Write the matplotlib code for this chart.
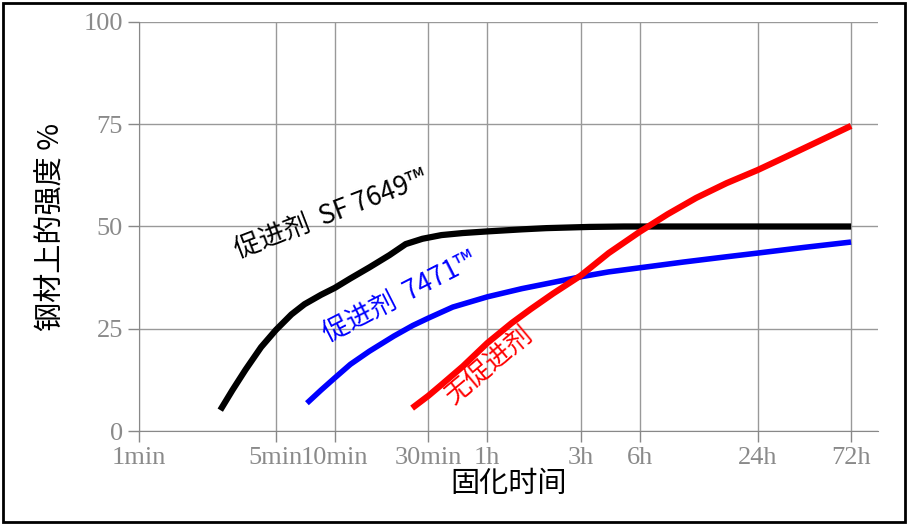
import numpy as np
import matplotlib.pyplot as plt
from matplotlib.patches import Rectangle

# x in minutes (log scale)
tick_min = [1, 5, 10, 30, 60, 180, 360, 1440, 4320]
tick_lbl = ['1min', '5min', '10min', '30min', '1h', '3h', '6h', '24h', '72h']
y_ticks = [0, 25, 50, 75, 100]

sf_t = [2.6, 3.0, 3.5, 4.2, 5, 6, 7, 8.5, 10, 12, 15, 19, 23, 28, 35, 45, 60, 90, 120, 200, 300, 600, 1000, 4320]
sf_v = [5.1, 10, 15, 20.5, 24.7, 28.5, 31, 33.3, 35, 37.3, 40, 43, 45.7, 47, 47.9, 48.4, 48.8, 49.3, 49.6, 49.9, 50, 50, 50, 50]
b_t = [7.2, 8.5, 10, 12, 15, 20, 25, 30, 40, 60, 90, 120, 180, 250, 360, 600, 1000, 1440, 2500, 4320]
b_v = [6.8, 10, 13, 16.3, 19.5, 23.2, 25.8, 27.6, 30.3, 32.8, 34.8, 36, 37.7, 38.9, 39.9, 41.3, 42.6, 43.5, 44.9, 46.2]
r_t = [24.8, 30, 35, 45, 60, 80, 100, 130, 180, 250, 360, 500, 700, 1000, 1440, 2000, 3000, 4320]
r_v = [5.6, 8.6, 11.3, 15.8, 21.5, 26.4, 29.8, 33.6, 38, 43.5, 48.7, 53, 57, 60.6, 63.8, 67, 71, 74.6]

cjk = ['Noto Sans CJK JP', 'Noto Sans CJK SC', 'DejaVu Sans']
ser = 'Liberation Serif'

fig = plt.figure(figsize=(9.09, 5.24), dpi=100)
ax = fig.add_axes([139/909, 93/524, (878-139)/909, (431-22)/524])
ax.set_xscale('log')
ax.set_xlim(1, 5930)
ax.set_ylim(0, 100)

ax.plot(sf_t, sf_v, color='black', lw=4.5, solid_capstyle='butt')
ax.plot(b_t, b_v, color='#0000ff', lw=4, solid_capstyle='butt')
ax.plot(r_t, r_v, color='#ff0000', lw=4.5, solid_capstyle='butt')

ax.set_xticks(tick_min)
ax.set_xticklabels(tick_lbl, fontfamily=ser, fontsize=19, color='#8a8a8a')
ax.xaxis.set_minor_locator(plt.NullLocator())
ax.set_yticks(y_ticks)
ax.set_yticklabels([str(v) for v in y_ticks], fontfamily=ser, fontsize=19, color='#8a8a8a')
ax.tick_params(axis='both', direction='out', length=8, color='#888888', width=1)
ax.grid(True, color='#999999', lw=1)
for s in ['top', 'right']:
    ax.spines[s].set_visible(False)
for s in ['left', 'bottom']:
    ax.spines[s].set_color('#888888')

ax.set_xlabel('固化时间', fontfamily=cjk, fontsize=21, labelpad=0)
ax.set_ylabel('钢材上的强度 %', fontfamily=cjk, fontsize=21, labelpad=12)

ax.text(3.3, 41, '促进剂  SF 7649™', fontfamily=cjk, fontsize=19, rotation=21,
        color='black', ha='left', va='bottom', rotation_mode='anchor')
ax.text(9.5, 20.5, '促进剂  7471™', fontfamily=cjk, fontsize=19, rotation=27,
        color='#0000ff', ha='left', va='bottom', rotation_mode='anchor')
ax.text(42, 5.5, '无促进剂', fontfamily=cjk, fontsize=19, rotation=40,
        color='#ff0000', ha='left', va='bottom', rotation_mode='anchor')

fig.patches.append(Rectangle((0.003, 0.004), 0.993, 0.99, transform=fig.transFigure,
                             fill=False, ec='black', lw=2))
fig.savefig('out.png', dpi=100)
